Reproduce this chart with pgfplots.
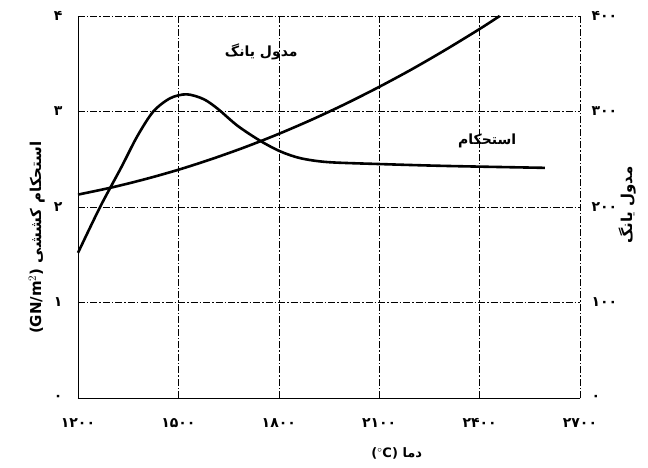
\documentclass[border=0pt]{standalone}
\usepackage{fontspec}
\usepackage{pgfplots}
\pgfplotsset{compat=1.18}
\setmainfont{DejaVu Sans}
\newfontfamily\fa[Script=Arabic]{DejaVu Sans}
\newfontfamily\fadig{DejaVu Sans}
\TeXXeTstate=1

\pgfplotstableread{
T S
1200 1.52
1266 2.00
1330 2.42
1377 2.74
1425 3.00
1476 3.14
1525 3.18
1575 3.13
1617 3.03
1677 2.85
1746 2.69
1806 2.58
1866 2.51
1947 2.47
2100 2.45
2300 2.43
2595 2.41
}\strength

\pgfplotstableread{
T E
1200 213
1300 220.4
1400 229.1
1500 239.0
1600 250.3
1700 262.8
1800 276.6
1900 291.7
2000 308.1
2100 325.8
2200 344.7
2300 365.0
2400 386.4
2460 400
}\modulus

\begin{document}
\begin{tikzpicture}
\tikzset{gridstyle/.style={black, line width=0.5pt, dash pattern=on 7pt off 2pt on 1.5pt off 2pt}}
\begin{axis}[
  at={(0,0)}, anchor=south west,
  scale only axis, width=502pt, height=382pt,
  xmin=1200, xmax=2700, ymin=0, ymax=4,
  xtick={1200,1500,1800,2100,2400,2700},
  xticklabels={۱۲۰۰,۱۵۰۰,۱۸۰۰,۲۱۰۰,۲۴۰۰,۲۷۰۰},
  ytick={0,1,2,3,4},
  yticklabels={۰,۱,۲,۳,۴},
  grid=major, major grid style={gridstyle},
  axis x line*=bottom, axis y line*=left,
  axis line style={black, line width=0.9pt},
  tick style={draw=none},
  clip=false,
  xticklabel style={font=\fadig\bfseries\fontsize{14}{16}\selectfont, yshift=-17pt},
  yticklabel style={font=\fadig\bfseries\fontsize{14}{16}\selectfont, xshift=-12pt},
]
\addplot[black, line width=2.6pt, smooth, tension=0.5] table[x=T, y=S] {\strength};
\node[font=\fa\bfseries\fontsize{14}{16}\selectfont] at (axis description cs:0.365,0.905) {\beginR مدول یانگ\endR};
\node[font=\fa\bfseries\fontsize{14}{16}\selectfont] at (axis description cs:0.815,0.673) {\beginR استحکام\endR};
\node[font=\bfseries\fontsize{15}{17}\selectfont, rotate=90] at (axis description cs:-0.082,0.42) {\beginR{\fa استحکام کششی} {\fadig\beginL(GN/m$^2$)\endL}\endR};
\node[font=\fa\bfseries\fontsize{15}{17}\selectfont, rotate=90] at (axis description cs:1.094,0.505) {\beginR مدول یانگ\endR};
\node[font=\bfseries\fontsize{13}{15}\selectfont] at (axis description cs:0.635,-0.144) {{\fadig($^\circ$C)}\ {\fa دما}};
\end{axis}
\begin{axis}[
  at={(0,0)}, anchor=south west,
  scale only axis, width=502pt, height=382pt,
  xmin=1200, xmax=2700, ymin=0, ymax=400,
  axis x line=none, axis y line*=right,
  axis line style={gridstyle},
  ytick={0,100,200,300,400},
  yticklabels={۰,۱۰۰,۲۰۰,۳۰۰,۴۰۰},
  tick style={draw=none},
  yticklabel style={font=\fadig\bfseries\fontsize{14}{16}\selectfont, anchor=west, xshift=8pt},
  clip=false,
]
\addplot[black, line width=2.6pt, smooth, tension=0.5] table[x=T, y=E] {\modulus};
\end{axis}
\pgfresetboundingbox
\path[use as bounding box] (-78pt,-69pt) rectangle (570pt,398pt);
\end{tikzpicture}
\end{document}
